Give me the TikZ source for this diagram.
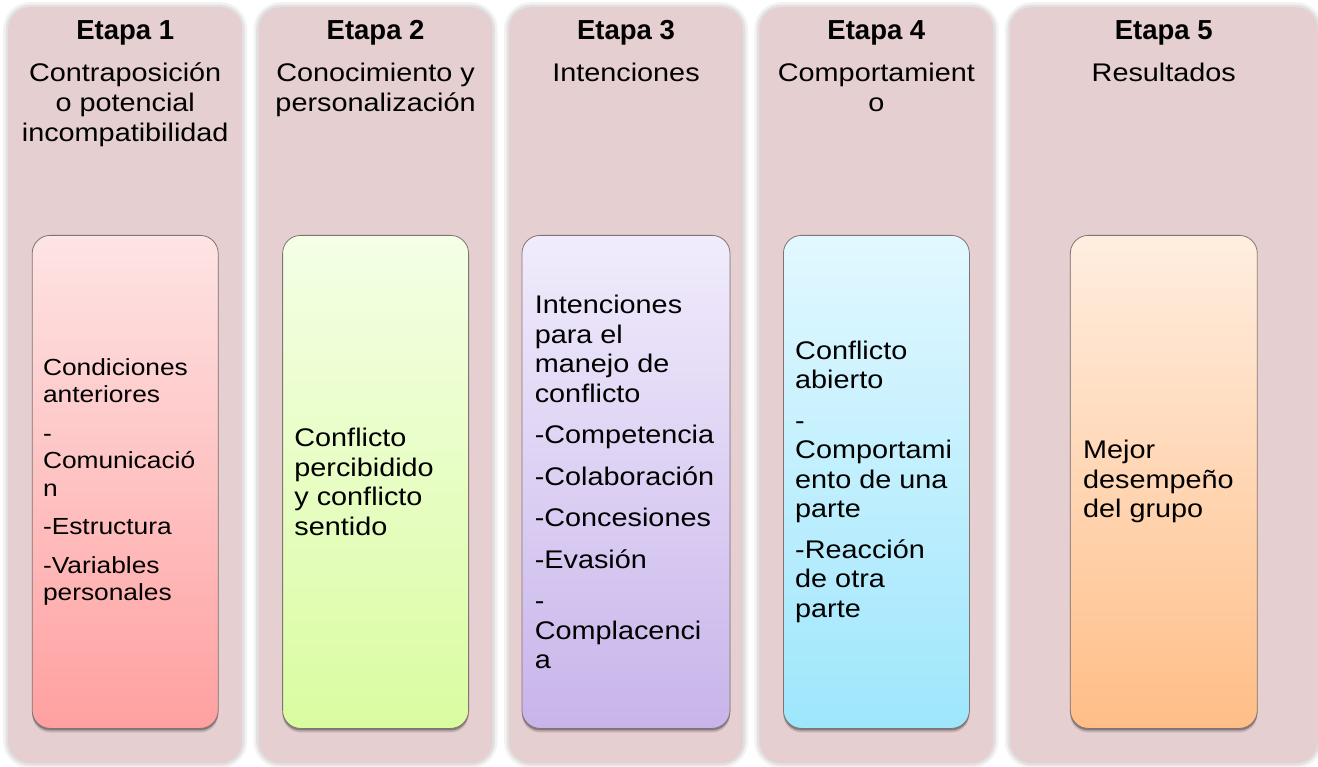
\documentclass[tikz,border=0pt]{standalone}
\usepackage{fontspec}
\setmainfont{Liberation Sans}[FakeStretch=1.13]
\newfontfamily\headfont{Liberation Sans}
\usetikzlibrary{positioning}
\definecolor{stagebg}{RGB}{229,207,208}
\definecolor{boxline}{RGB}{128,116,116}
\definecolor{redtop}{RGB}{254,228,228}
\definecolor{redbot}{RGB}{255,160,160}
\definecolor{greentop}{RGB}{244,255,230}
\definecolor{greenbot}{RGB}{218,252,160}
\definecolor{violettop}{RGB}{241,236,252}
\definecolor{violetbot}{RGB}{200,180,234}
\definecolor{bluetop}{RGB}{226,248,255}
\definecolor{bluebot}{RGB}{158,230,252}
\definecolor{orangetop}{RGB}{255,238,224}
\definecolor{orangebot}{RGB}{255,190,135}
\tikzset{
  stage/.style={rectangle, rounded corners=22pt, fill=stagebg, inner sep=0pt,
    minimum width=234pt, minimum height=756pt,
    preaction={draw=black, draw opacity=.05, line width=10pt},
    preaction={draw=black, draw opacity=.07, line width=5pt}},
  card/.style={rectangle, rounded corners=18pt, draw=boxline, line width=.8pt, inner sep=0pt,
    minimum width=186pt, minimum height=493pt,
    preaction={fill=black, fill opacity=.15, transform canvas={yshift=-4pt}},
    preaction={fill=black, fill opacity=.3, transform canvas={yshift=-2pt}}},
  head/.style={font=\headfont\bfseries\fontsize{27.5}{30}\selectfont, inner sep=0pt, anchor=base},
  sub/.style={font=\fontsize{25.5}{30}\selectfont, align=center, inner sep=0pt, anchor=base},
  item/.style={font=\fontsize{25.5}{29.5}\selectfont, align=left, inner sep=0pt}
}
\begin{document}
\begin{tikzpicture}[x=1pt, y=-1pt]
  \useasboundingbox (0,0) rectangle (1318,767);
  % stage columns
  \node[stage, anchor=north west] (st1) at (8,7) {};
  \node[stage, right=16pt of st1] (st2) {};
  \node[stage, right=16pt of st2] (st3) {};
  \node[stage, right=16pt of st3] (st4) {};
  \node[stage, right=16pt of st4, minimum width=308pt] (st5) {};
  % cards
  \node[card, top color=redtop, bottom color=redbot, below=228pt of st1.north] (card1) {};
  \node[card, top color=greentop, bottom color=greenbot, below=228pt of st2.north] (card2) {};
  \node[card, top color=violettop, bottom color=violetbot, minimum width=208pt, below=228pt of st3.north] (card3) {};
  \node[card, top color=bluetop, bottom color=bluebot, below=228pt of st4.north] (card4) {};
  \node[card, top color=orangetop, bottom color=orangebot, minimum width=187pt, below=228pt of st5.north] (card5) {};
  % headings (base = last line)
  \foreach \i in {1,...,5}
    \node[head] (head\i) at ([yshift=-33pt]st\i.north) {Etapa \i};
  \node[sub] (sub1) at ([yshift=-135pt]st1.north) {Contraposición\\o potencial\\incompatibilidad};
  \node[sub] (sub2) at ([yshift=-105pt]st2.north) {Conocimiento y\\personalización};
  \node[sub] (sub3) at ([yshift=-75pt]st3.north) {Intenciones};
  \node[sub] (sub4) at ([yshift=-105pt]st4.north) {Comportamient\\o};
  \node[sub] (sub5) at ([yshift=-75pt]st5.north) {Resultados};
  % card texts
  \node[item, font=\fontsize{23.3}{27.5}\selectfont, right=11pt of card1.west] (txt1)
    {Condiciones\\anteriores\\[11pt]-\\Comunicació\\n\\[11pt]-Estructura\\[11pt]-Variables\\personales};
  \node[item, right=12pt of card2.west] (txt2)
    {Conflicto\\percibidido\\y conflicto\\sentido};
  \node[item, right=13pt of card3.west] (txt3)
    {Intenciones\\para el\\manejo de\\conflicto\\[12pt]-Competencia\\[12pt]-Colaboración\\[12pt]-Concesiones\\[12pt]-Evasión\\[12pt]-\\Complacenci\\a};
  \node[item, right=12pt of card4.west] (txt4)
    {Conflicto\\abierto\\[11pt]-\\Comportami\\ento de una\\parte\\[11pt]-Reacción\\de otra\\parte};
  \node[item, right=13pt of card5.west] (txt5)
    {Mejor\\desempeño\\del grupo};
\end{tikzpicture}
\end{document}
